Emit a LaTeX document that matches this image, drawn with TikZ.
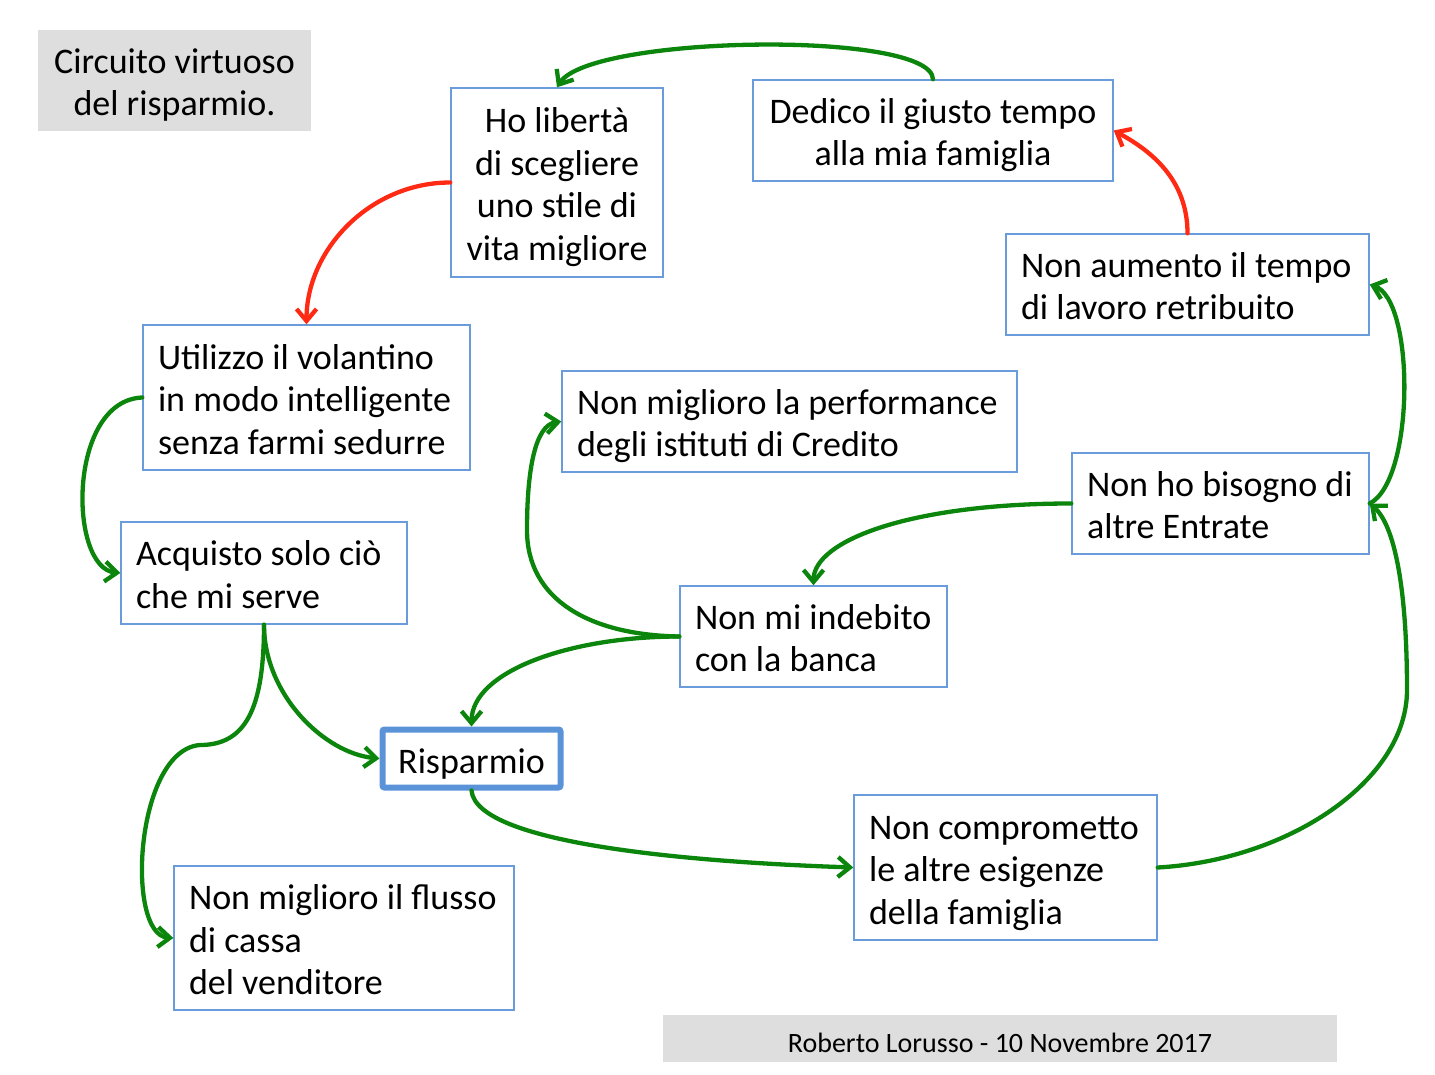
\documentclass[tikz,border=0pt]{standalone}
\usepackage{fontspec}
\setmainfont{Carlito}
\usetikzlibrary{arrows.meta}
\definecolor{boxblue}{HTML}{6A9BDB}
\definecolor{rispblue}{HTML}{5B93D8}
\definecolor{arrgreen}{HTML}{0C850C}
\definecolor{arrred}{HTML}{FF2A14}
\definecolor{panelgray}{HTML}{DEDEDE}
\newcommand\dn[1]{\raisebox{-5.5pt}[\height][\depth]{#1}}
\newcommand\lt[2]{\dn{\makebox[#1pt][l]{\begin{tabular}{@{}l@{}}#2\end{tabular}}}}
\newcommand\ct[1]{\dn{\begin{tabular}{@{}c@{}}#1\end{tabular}}}
\tikzset{
  mainfont/.style={font=\fontsize{36}{42.5}\selectfont},
  box/.style={draw=boxblue, line width=1.4pt, fill=white, inner xsep=15pt, inner ysep=0pt, mainfont},
  panel/.style={fill=panelgray, inner sep=0pt},
  garr/.style={draw=arrgreen, line width=4.3pt, line cap=round, -{Straight Barb[length=12pt,width=20pt]}},
  rarr/.style={garr, draw=arrred},
}
\begin{document}
\begin{tikzpicture}[x=1pt,y=-1pt]
\useasboundingbox (0,0) rectangle (1435,1075);

\node[panel, mainfont, minimum width=273, minimum height=101] (title) at (174.5,80.5) {\ct{Circuito virtuoso\\del risparmio.}};
\node[panel, font=\fontsize{28}{32}\selectfont, minimum width=674, minimum height=47] (footer) at (1000,1038.5) {\raisebox{-4pt}[\height][\depth]{Roberto Lorusso - 10 Novembre 2017}};

\node[box, minimum width=212, minimum height=189] (ho) at (557,182.5) {\ct{Ho libertà\\di scegliere\\uno stile di\\vita migliore}};
\node[box, minimum width=360, minimum height=101] (dedico) at (933,130.5) {\ct{Dedico il giusto tempo\\alla mia famiglia}};
\node[box, minimum width=363, minimum height=101] (aumento) at (1187.5,284.5) {\lt{333}{Non aumento il tempo\\di lavoro retribuito}};
\node[box, minimum width=327, minimum height=145] (util) at (306.5,397.5) {\lt{297}{Utilizzo il volantino\\in modo intelligente\\senza farmi sedurre}};
\node[box, minimum width=455, minimum height=101] (perf) at (789.5,421.5) {\lt{425}{Non miglioro la performance\\degli istituti di Credito}};
\node[box, minimum width=297, minimum height=101] (bisogno) at (1220.5,503.5) {\lt{267}{Non ho bisogno di\\altre Entrate}};
\node[box, minimum width=286, minimum height=102] (acq) at (264,573) {\lt{256}{Acquisto solo ciò\\che mi serve}};
\node[box, minimum width=267, minimum height=101] (indeb) at (813.5,636.5) {\lt{237}{Non mi indebito\\con la banca}};
\node[box, draw=rispblue, line width=6pt, rounded corners=2pt, inner xsep=10pt, minimum width=178, minimum height=58] (risp) at (471.5,758.5) {\dn{Risparmio}};
\node[box, minimum width=303, minimum height=145] (comprom) at (1005.5,867.5) {\lt{273}{Non comprometto\\le altre esigenze\\della famiglia}};
\node[box, minimum width=340, minimum height=144] (flusso) at (344,938) {\lt{310}{Non miglioro il flusso\\di cassa\\del venditore}};

% connectors
\draw[garr] (dedico.north) .. controls (932,30) and (590,35) .. (ho.north);
\draw[rarr] (ho.west) .. controls +(-80,0) and +(0,-75) .. (util.north);
\draw[rarr] (aumento.north) .. controls +(0,-54) and +(37,20) .. (dedico.east);
\draw[garr] (util.west) .. controls +(-75,3) and +(-52,-5) .. (acq.west);
\draw[garr] (acq.south) .. controls +(0,70) and +(-55,-5) .. (risp.west);
\draw[garr] (acq.south) .. controls (264,710) and (245,745) .. (200,745) .. controls (135,750) and (125,935) .. (flusso.west);
\draw[garr] (indeb.west) .. controls +(-110,0) and +(0,-55) .. (risp.north);
\draw[garr] (indeb.west) .. controls (590,635) and (527,600) .. (527,530) .. controls (527,470) and (535,425) .. (perf.west);
\draw[garr] (bisogno.west) .. controls +(-160,0) and +(0,-45) .. (indeb.north);
\draw[garr] (risp.south) .. controls +(5,55) and +(-150,-5) .. (comprom.west);
\draw[garr] (comprom.east) .. controls (1290,860) and (1407,780) .. (1407,690) .. controls (1407,590) and (1395,525) .. (bisogno.east);
\draw[garr] (bisogno.east) .. controls (1415,480) and (1415,300) .. (aumento.east);
\end{tikzpicture}
\end{document}
